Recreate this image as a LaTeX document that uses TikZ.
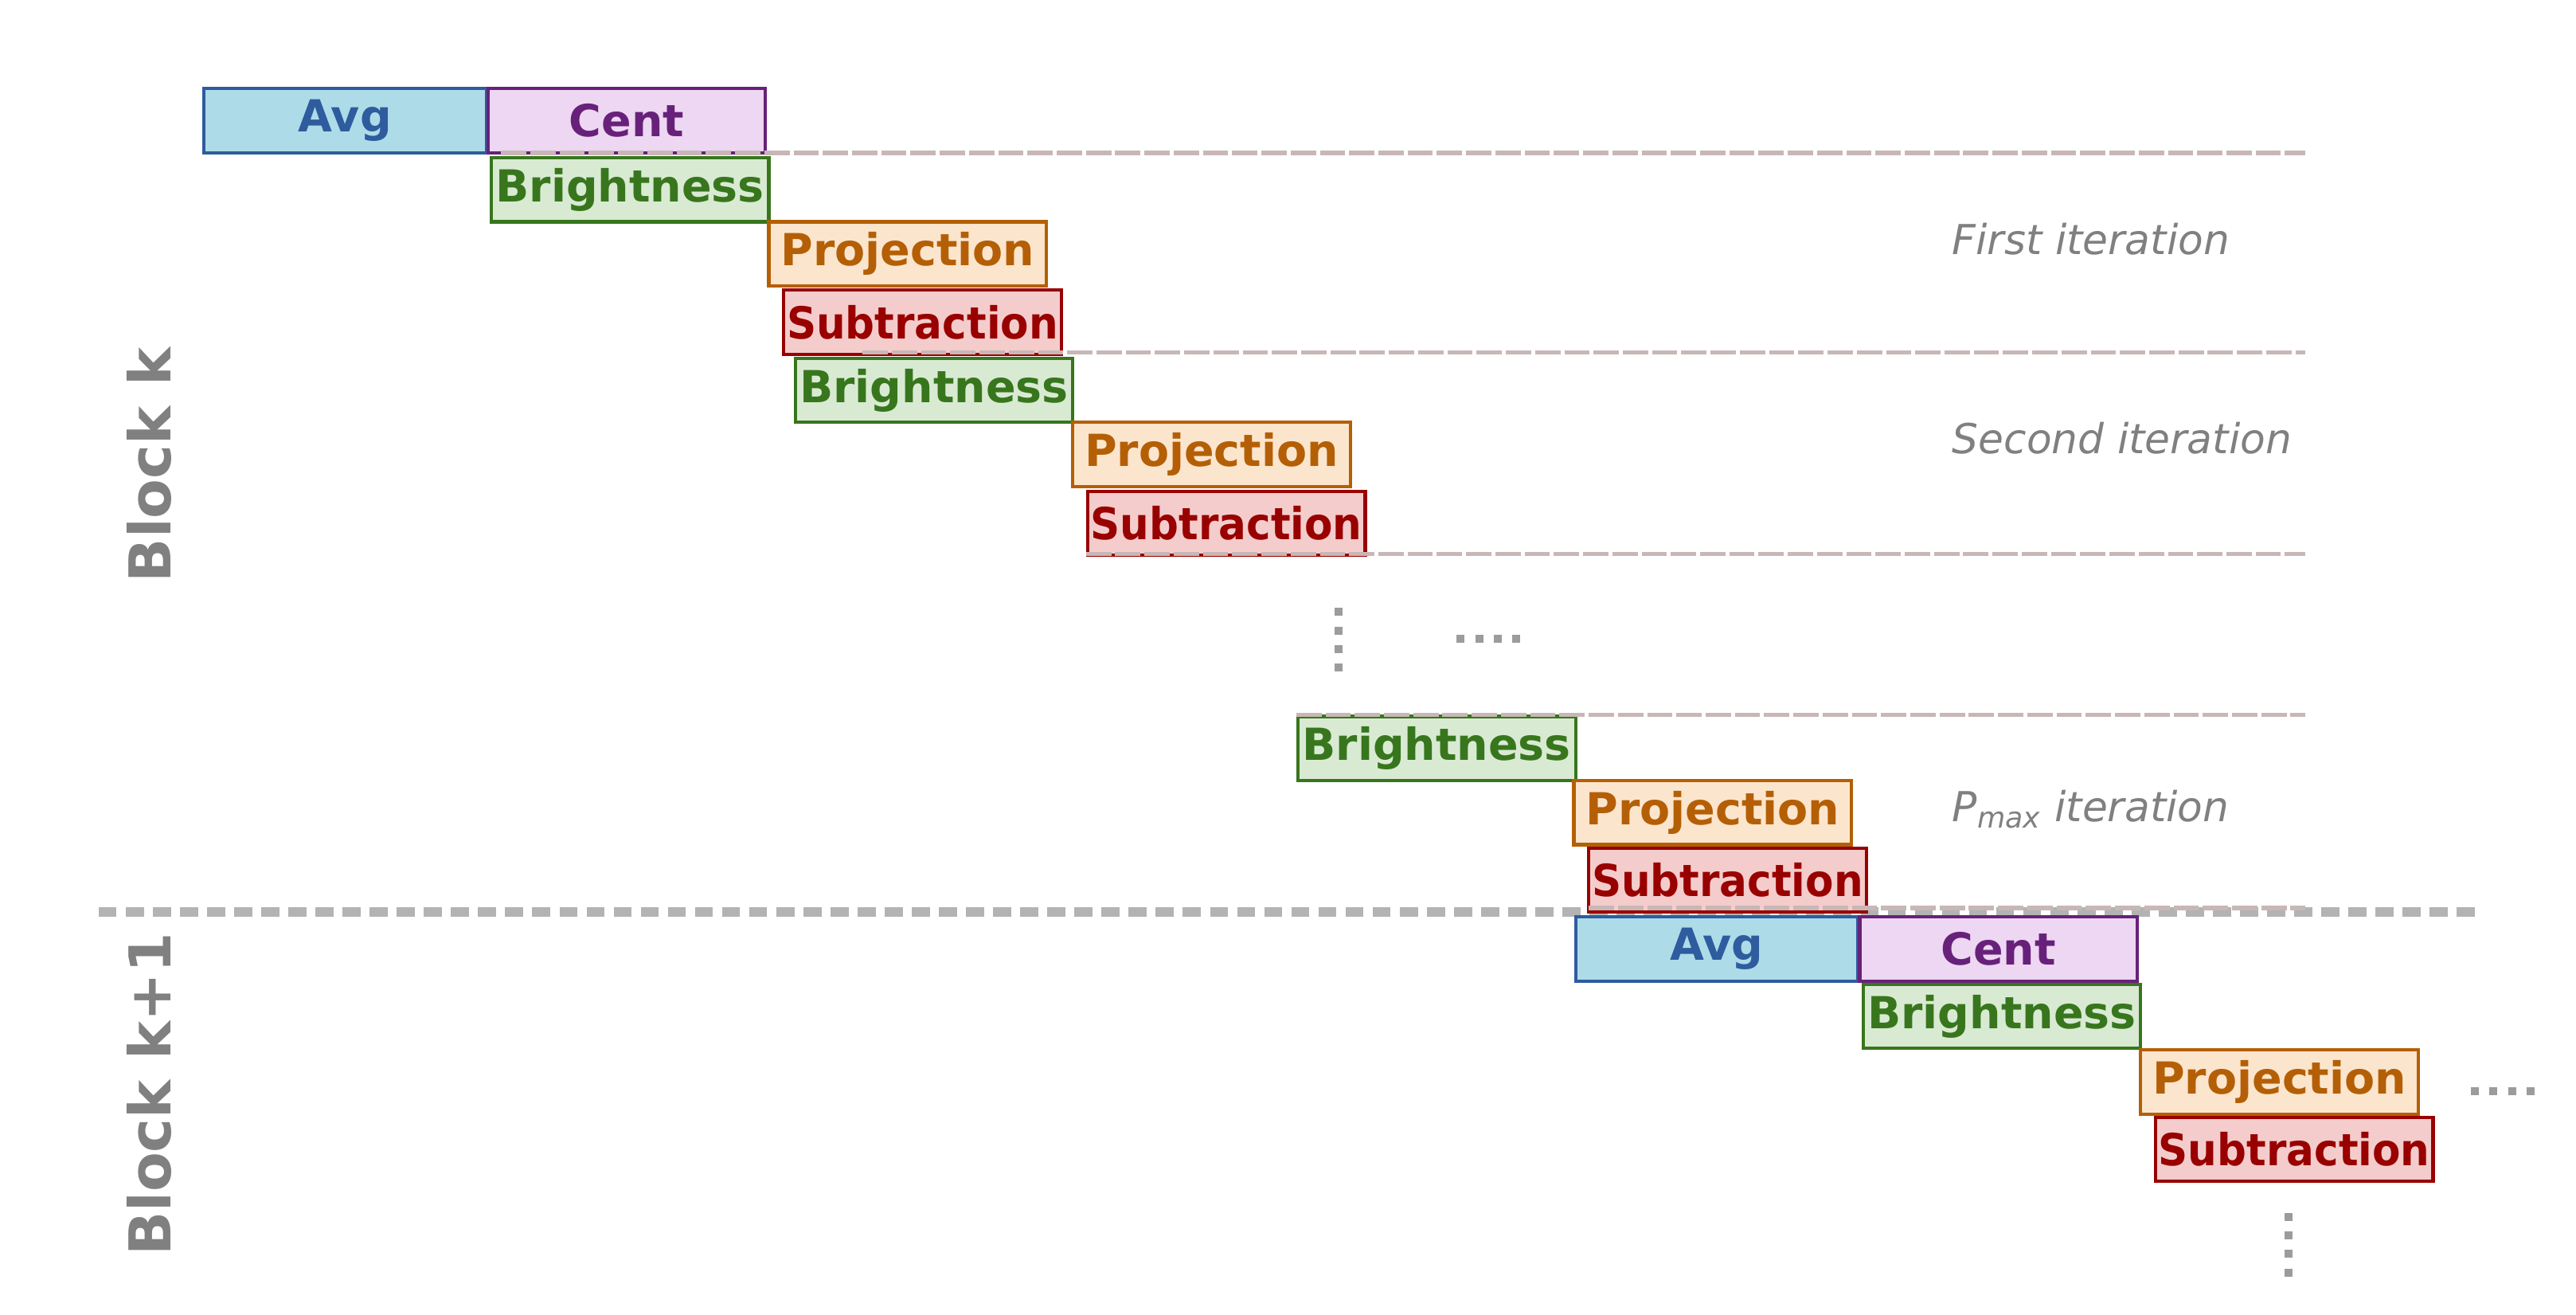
\documentclass[tikz,border=0pt]{standalone}
\usepackage{fontspec}
\setmainfont{DejaVu Sans}[BoldFont={DejaVu Sans Bold},ItalicFont={DejaVu Sans Oblique},BoldItalicFont={DejaVu Sans Bold Oblique}]
\newlength\vu
\setlength\vu{0.02cm}
\definecolor{avgfill}{HTML}{ADDCE8}
\definecolor{avgline}{HTML}{2E5C9E}
\definecolor{centfill}{HTML}{EDD7F2}
\definecolor{centline}{HTML}{68217A}
\definecolor{brifill}{HTML}{D9EAD3}
\definecolor{briline}{HTML}{38761D}
\definecolor{projfill}{HTML}{FCE5CD}
\definecolor{projline}{HTML}{B45F06}
\definecolor{subfill}{HTML}{F4CCCC}
\definecolor{subline}{HTML}{990000}
\definecolor{itercol}{HTML}{C8B7B7}
\definecolor{blockgray}{HTML}{B3B3B3}
\definecolor{dotgray}{HTML}{9C9C9C}
\definecolor{labelgray}{HTML}{808080}
\tikzset{
  box/.style={draw, line width=2\vu, anchor=north west, minimum width=169\vu,
    minimum height=39\vu, inner sep=0pt, font=\fontsize{15.3}{17}\selectfont\bfseries},
  avgbox/.style={box, fill=avgfill, draw=avgline, text=avgline, minimum width=172\vu},
  centbox/.style={box, fill=centfill, draw=centline, text=centline},
  bribox/.style={box, fill=brifill, draw=briline, text=briline},
  projbox/.style={box, fill=projfill, draw=projline, text=projline},
  subbox/.style={box, fill=subfill, draw=subline, text=subline},
  iterline/.style={draw=itercol, line width=2.6\vu, dash pattern=on 15.4\vu off 2.4\vu},
  blockline/.style={draw=blockgray, line width=5.5\vu, dash pattern=on 11\vu off 5.5\vu},
  dotmark/.style={draw=dotgray, line width=4.85\vu, dash pattern=on 4.85\vu off 6.45\vu},
  itlabel/.style={text=labelgray, font=\fontsize{14.3}{16}\selectfont\itshape, anchor=base west, inner sep=0pt},
  blocklabel/.style={text=labelgray, font=\fontsize{20}{22}\selectfont\bfseries, rotate=90, inner sep=0pt},
}
\newcommand{\subtxt}{\scalebox{0.93}[1]{Subtraction}}
\begin{document}
\begin{tikzpicture}[x=0.02cm, y=-0.02cm]
\fill[white] (0,0) rectangle (1568,800);
\useasboundingbox (0,0) rectangle (1568,800);

% block separator
\coordinate (bsL) at (60,555);
\coordinate (bsR) at (1508,555);
\draw[blockline] (bsL) -- (bsR);

% block labels
\node[blocklabel] (blk) at (91,283) {Block k};
\node[blocklabel] (blk1) at (91,666) {Block k+1};

% first iteration
\node[avgbox] (avg1) at (123,53) {Avg};
\node[centbox] (cent1) at (296,53) {Cent};
\node[bribox] (bri1) at (298,95) {Brightness};
\node[projbox] (proj1) at (467,134) {Projection};
\node[subbox] (sub1) at (476,175.5) {\subtxt};
% second iteration
\node[bribox] (bri2) at (483,217) {Brightness};
\node[projbox] (proj2) at (652,256) {Projection};
\node[subbox] (sub2) at (661,298) {\subtxt};
% Pmax iteration
\node[bribox] (bri3) at (789,435) {Brightness};
\node[projbox] (proj3) at (957,474) {Projection};
\node[subbox] (sub3) at (966,515) {\subtxt};
% block k+1
\node[avgbox] (avg2) at (958,557) {Avg};
\node[centbox] (cent2) at (1131,557) {Cent};
\node[bribox] (bri4) at (1133,598) {Brightness};
\node[projbox] (proj4) at (1302,638) {Projection};
\node[subbox] (sub4) at (1311,679) {\subtxt};

% iteration separators
\coordinate (l1a) at (305,93); \coordinate (l1b) at (1403,93);
\coordinate (l2a) at (525,214.5); \coordinate (l2b) at (1403,214.5);
\coordinate (l3a) at (661,337); \coordinate (l3b) at (1403,337);
\coordinate (l4a) at (789,435); \coordinate (l4b) at (1403,435);
\coordinate (l5a) at (967,552.5); \coordinate (l5b) at (1403,552.5);
\draw[iterline] (l1a) -- (l1b);
\draw[iterline] (l2a) -- (l2b);
\draw[iterline] (l3a) -- (l3b);
\draw[iterline] (l4a) -- (l4b);
\draw[iterline] (l5a) -- (l5b);

% iteration labels
\node[itlabel] (it1) at (1188,155) {First iteration};
\node[itlabel] (it2) at (1188,276) {Second iteration};
\node[itlabel] (it3) at (1188,500) {P\textsubscript{max} iteration};

% ellipsis marks
\coordinate (v1a) at (815,370); \coordinate (v1b) at (815,410);
\draw[dotmark] (v1a) -- (v1b);
\coordinate (h1a) at (886.6,388.6); \coordinate (h1b) at (926,388.6);
\draw[dotmark] (h1a) -- (h1b);
\coordinate (h2a) at (1504,664); \coordinate (h2b) at (1544,664);
\draw[dotmark] (h2a) -- (h2b);
\coordinate (v2a) at (1393,738); \coordinate (v2b) at (1393,778);
\draw[dotmark] (v2a) -- (v2b);
\end{tikzpicture}
\end{document}
